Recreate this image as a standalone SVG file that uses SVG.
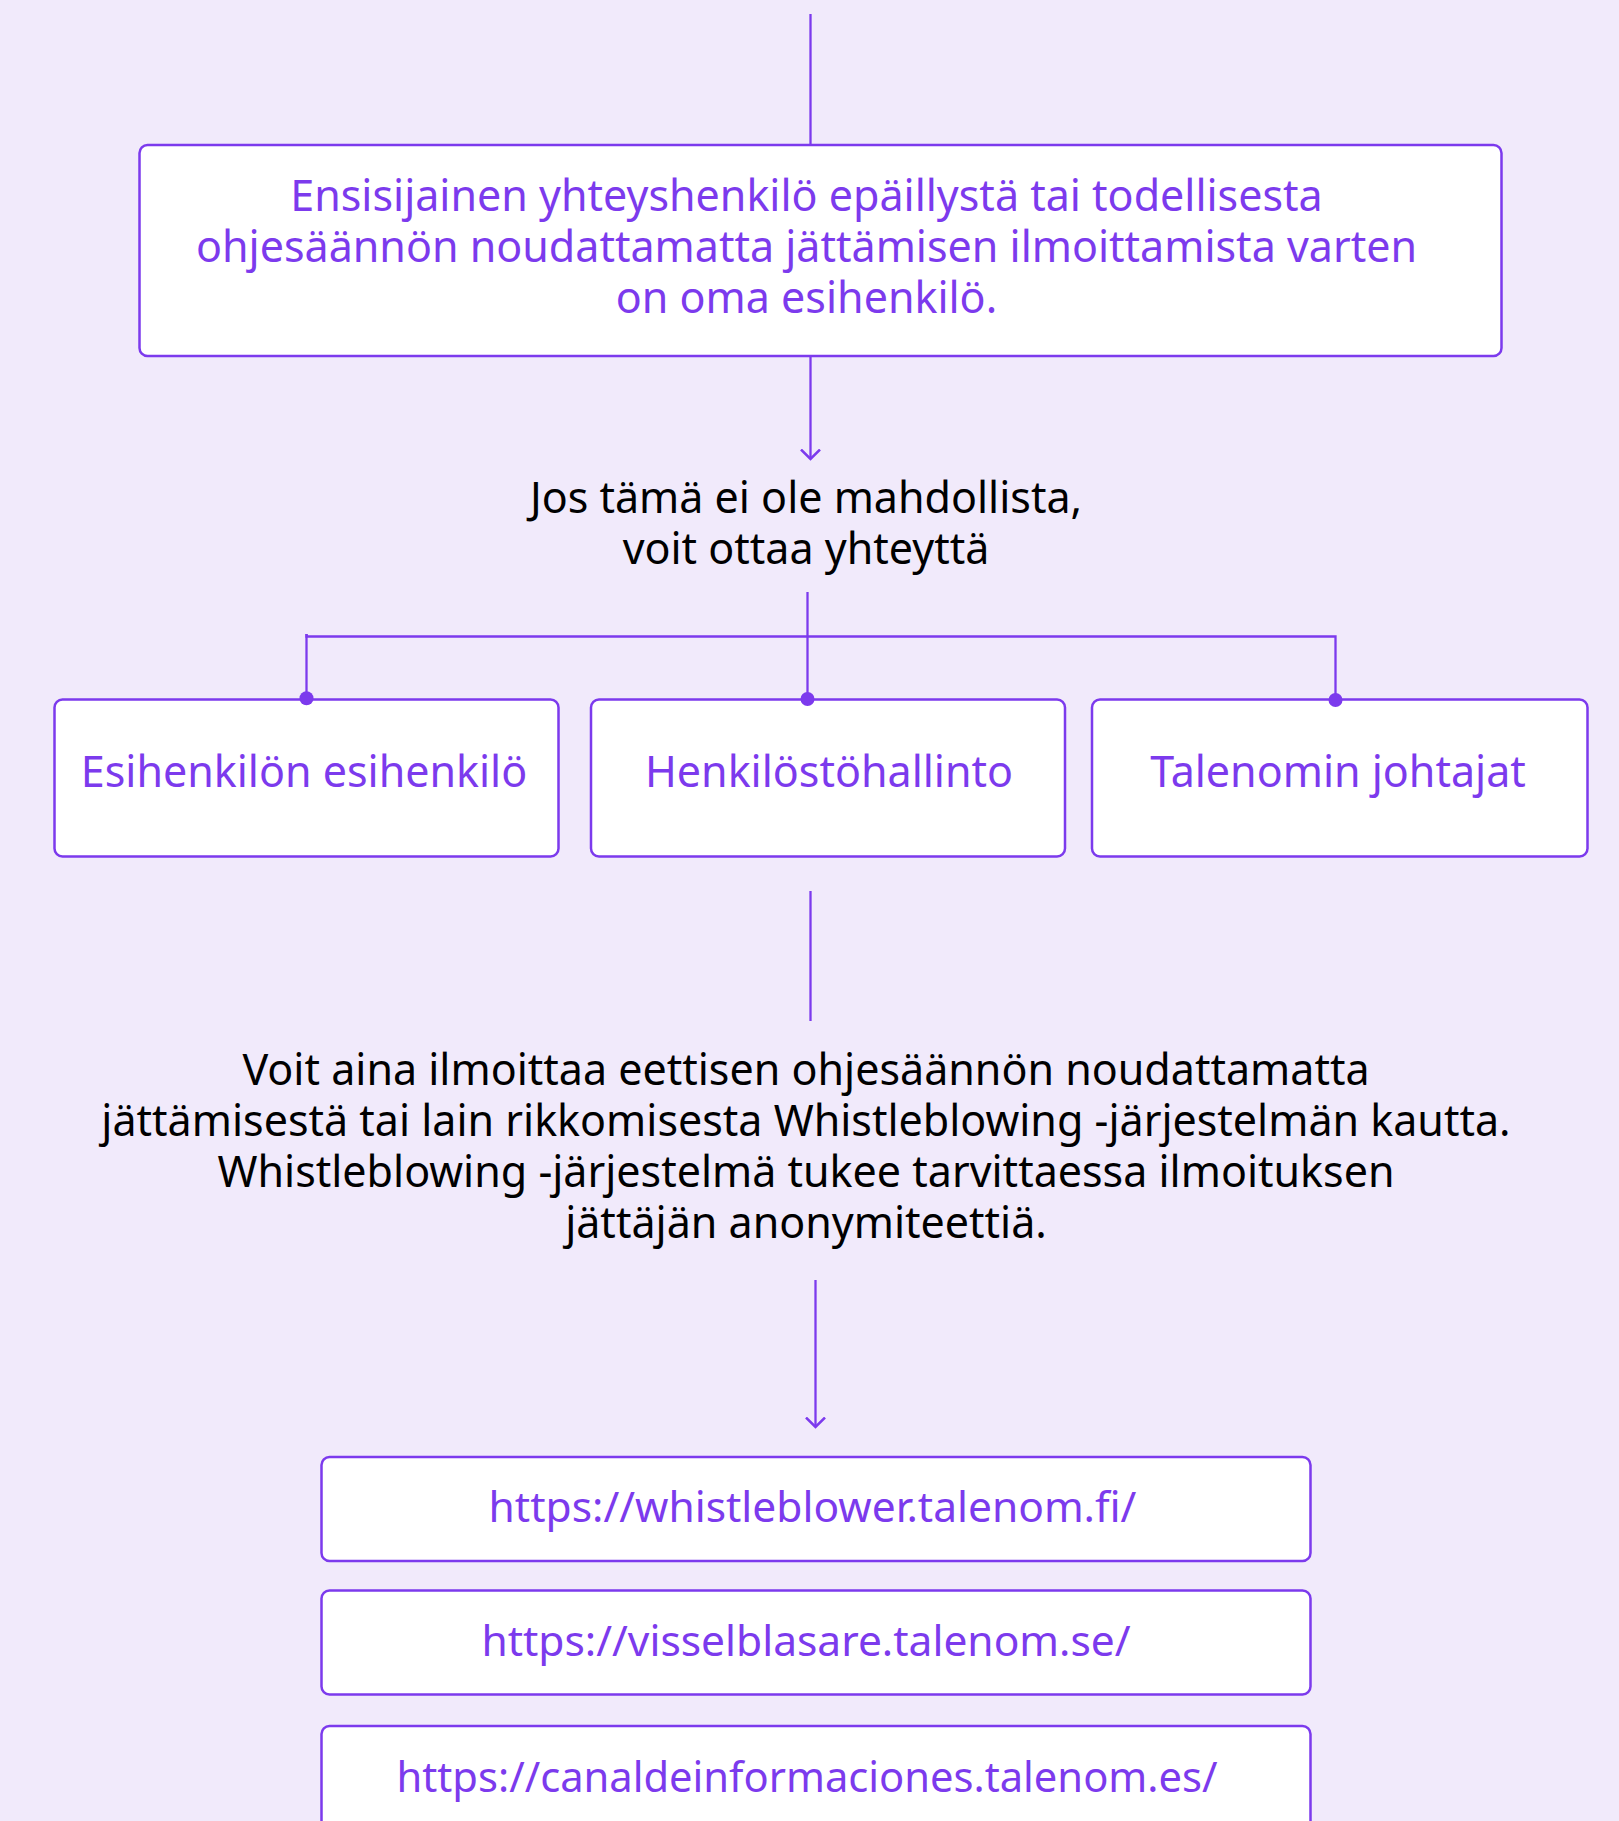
<svg xmlns="http://www.w3.org/2000/svg" width="1619" height="1821" viewBox="0 0 1619 1821">
<defs>
<style>
.box{fill:#ffffff;stroke:#7c3aed;stroke-width:2.5}
.pt{font-family:"Noto Sans","Open Sans",sans-serif;font-size:43px;fill:#7c3aed;text-anchor:middle}
.pu{font-family:"Noto Sans","Open Sans",sans-serif;font-size:42.5px;fill:#7c3aed;text-anchor:middle}
.bt{font-family:"Noto Sans","Open Sans",sans-serif;font-size:43px;fill:#000000;text-anchor:middle}
.ln{stroke:#7c3aed;stroke-width:2.3;fill:none}
.dot{fill:#7c3aed}
</style>
<marker id="arr" markerWidth="12" markerHeight="22" refX="10.5" refY="11" orient="auto" markerUnits="userSpaceOnUse" viewBox="0 0 12 22">
<path d="M1,1.5 L10.5,11 L1,20.5" fill="none" stroke="#7c3aed" stroke-width="2.5"/>
</marker>
</defs>
<rect width="1619" height="1821" fill="#f1eafb"/>
<g id="node-primary">
<rect class="box" x="139.5" y="145" width="1362" height="211" rx="8"/>
<text class="pt" x="806.5" y="211">Ensisijainen yhteyshenkilö epäillystä tai todellisesta</text>
<text class="pt" x="806.5" y="262">ohjesäännön noudattamatta jättämisen ilmoittamista varten</text>
<text class="pt" x="806.5" y="313">on oma esihenkilö.</text>
</g>
<g id="label-ifnot">
<text class="bt" x="806" y="513">Jos tämä ei ole mahdollista,</text>
<text class="bt" x="806" y="564">voit ottaa yhteyttä</text>
</g>
<g id="node-esihenkilo">
<rect class="box" x="54.5" y="699.5" width="504" height="157" rx="8"/>
<text class="pt" x="304" y="787">Esihenkilön esihenkilö</text>
</g>
<g id="node-hr">
<rect class="box" x="591" y="699.5" width="474" height="157" rx="8"/>
<text class="pt" x="829" y="787">Henkilöstöhallinto</text>
</g>
<g id="node-johtajat">
<rect class="box" x="1092" y="699.5" width="495.5" height="157" rx="8"/>
<text class="pt" x="1338" y="787">Talenomin johtajat</text>
</g>
<g id="label-whistle">
<text class="bt" x="806" y="1085">Voit aina ilmoittaa eettisen ohjesäännön noudattamatta</text>
<text class="bt" x="806" y="1136">jättämisestä tai lain rikkomisesta Whistleblowing -järjestelmän kautta.</text>
<text class="bt" x="806" y="1187">Whistleblowing -järjestelmä tukee tarvittaessa ilmoituksen</text>
<text class="bt" x="806" y="1238">jättäjän anonymiteettiä.</text>
</g>
<g id="node-fi">
<rect class="box" x="321.5" y="1457" width="989" height="104" rx="8"/>
<text class="pu" x="812.5" y="1522">https://whistleblower.talenom.fi/</text>
</g>
<g id="node-se">
<rect class="box" x="321.5" y="1590.5" width="989" height="104" rx="8"/>
<text class="pu" x="806" y="1656">https://visselblasare.talenom.se/</text>
</g>
<g id="node-es">
<rect class="box" x="321.5" y="1726" width="989" height="140" rx="8"/>
<text class="pu" x="807" y="1792" style="font-size:41.7px">https://canaldeinformaciones.talenom.es/</text>
</g>
<g id="connectors">
<line class="ln" x1="810.5" y1="14" x2="810.5" y2="145"/>
<line class="ln" x1="810.5" y1="356" x2="810.5" y2="459" marker-end="url(#arr)"/>
<line class="ln" x1="807.5" y1="592" x2="807.5" y2="699"/>
<polyline class="ln" points="306.5,634 306.5,636.5 1335.5,636.5 1335.5,700"/>
<line class="ln" x1="306.5" y1="634" x2="306.5" y2="698"/>
<circle class="dot" cx="306.5" cy="698.3" r="7"/>
<circle class="dot" cx="807.5" cy="699" r="7"/>
<circle class="dot" cx="1335.5" cy="700" r="7"/>
<line class="ln" x1="810.5" y1="891" x2="810.5" y2="1021"/>
<line class="ln" x1="815.5" y1="1280" x2="815.5" y2="1427" marker-end="url(#arr)"/>
</g>
</svg>
